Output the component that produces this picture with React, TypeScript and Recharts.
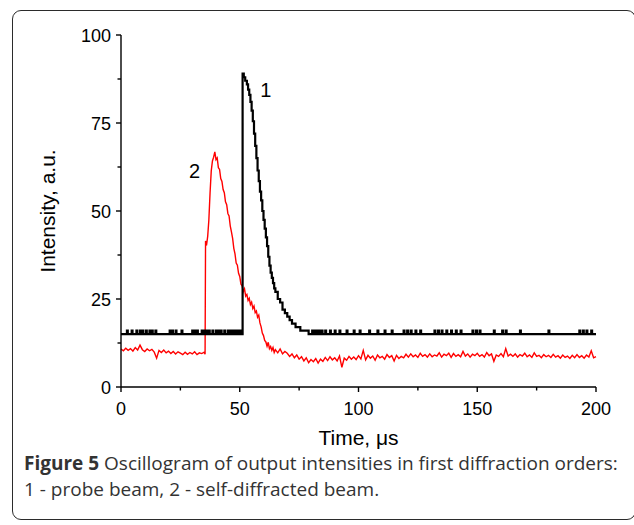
import React from "react";
import { LineChart, Line, XAxis, YAxis, ReferenceDot } from "recharts";

// time axis (µs) and intensity axis ticks, minor ones in between
const X_TICKS = [0, 25, 50, 75, 100, 125, 150, 175, 200];
const Y_TICKS = [0, 12.5, 25, 37.5, 50, 62.5, 75, 87.5, 100];

// curve 2 (self-diffracted beam), 1 µs samples before the pulse
const RED_PRE = [
  10.8, 10.3, 11.0, 10.4, 10.9, 10.2, 11.2, 10.5, 11.9, 10.6, 10.1, 10.8,
  10.3, 10.7, 9.9, 8.2, 10.4, 9.8, 10.5, 9.7, 10.2, 9.5, 10.1, 9.4, 10.0,
  9.6, 9.2, 9.9, 9.3, 9.8, 9.4, 10.0, 9.2, 9.7, 9.5,
];

// curve 2 during the pulse: [time, intensity]
const RED_PULSE: [number, number][] = [
  [35, 9.9], [35.4, 9.3], [35.6, 41.5], [36, 40.2], [36.5, 42.8], [37, 47.5],
  [37.5, 55.2], [38, 61.4], [38.5, 64.2], [39, 65.3], [39.5, 66.8], [40, 64.6],
  [40.5, 65.1], [41, 62.3], [41.5, 61.8], [42, 59.2], [42.5, 58.4], [43, 56.1],
  [43.5, 55.2], [44, 52.6], [44.5, 51.8], [45, 49.3], [45.5, 48.6], [46, 45.8],
  [46.5, 44.1], [47, 42.2], [47.5, 39.4], [48, 37.8], [48.5, 35.2], [49, 34.6],
  [49.5, 32.3], [50, 31.4], [50.5, 29.2], [51, 28.7], [51.5, 27.1], [52, 27.9],
  [52.5, 25.8], [53, 26.3], [53.5, 24.6], [54, 25.2], [54.5, 23.4], [55, 24.1],
  [55.5, 22.3], [56, 23.0], [56.5, 21.1], [57, 21.6], [57.5, 19.8], [58, 20.4],
  [58.5, 18.2], [59, 17.1], [59.5, 15.3], [60, 14.6], [60.5, 13.2], [61, 12.8],
  [61.5, 11.6], [62, 12.7], [62.5, 10.9], [63, 11.5], [63.5, 10.4], [64, 11.2],
  [64.5, 9.8], [65, 10.6], [66, 9.7], [67, 10.8], [68, 9.4], [69, 10.1],
];

// curve 2 after the pulse, 1 µs samples from 70 to 200 µs
const RED_POST = [
  9.6, 8.7, 9.4, 8.3, 9.1, 7.9, 8.6, 7.4, 8.3, 6.9, 7.8, 7.2, 8.1, 6.8, 7.9,
  7.3, 8.4, 7.5, 8.6, 7.7, 8.3, 7.4, 8.8, 5.6, 8.2, 7.6, 8.7, 7.9, 8.5, 7.8,
  8.9, 8.0, 10.4, 7.7, 9.0, 8.2, 8.8, 7.6, 9.1, 8.3, 8.7, 7.9, 9.2, 8.4, 8.9,
  7.4, 9.0, 8.1, 8.7, 8.3, 9.3, 8.5, 9.4, 8.6, 9.1, 8.4, 9.6, 8.7, 9.2, 8.5,
  9.4, 8.6, 9.1, 8.8, 9.7, 8.5, 9.3, 8.9, 9.6, 8.4, 9.5, 8.7, 9.2, 8.6, 10.1,
  8.8, 9.4, 8.5, 9.3, 8.9, 9.6, 8.7, 9.2, 8.5, 9.8, 8.9, 9.4, 7.3, 9.1, 8.7,
  9.5, 8.6, 10.9, 8.8, 9.3, 8.7, 9.4, 8.5, 9.2, 8.8, 9.6, 8.6, 9.1, 8.4, 9.7,
  8.7, 9.0, 8.3, 9.2, 8.6, 9.0, 8.4, 9.3, 8.5, 8.9, 8.2, 9.1, 8.4, 8.8, 8.1,
  9.0, 8.3, 9.2, 8.4, 8.9, 8.2, 9.1, 8.5, 10.3, 8.3, 8.6,
];

// curve 1 (probe beam): quantized baseline with short one-count blips
const BLACK_BASE = 15;
const BLACK_BLIP = 16;
const BLIPS_BEFORE = [
  2.5, 4.5, 6.5, 8, 9, 10.5, 12, 13, 14.5, 20.5, 21.5, 23, 25.5, 30, 31, 32,
  34, 35, 36, 37, 38.5, 40, 41, 42, 43.5, 45, 46, 47, 48, 49, 50,
];
const BLIPS_AFTER = [
  80.5, 81.5, 82.5, 83.5, 84.5, 86, 88, 90, 92, 95, 98, 100.5, 104.5, 108, 111,
  114, 119, 120.5, 122, 124, 126, 132, 133.5, 135, 137, 139, 141, 143, 148,
  149.5, 151, 157, 160.5, 162, 168, 180, 193, 194.5, 196, 198,
];
const BLACK_PULSE: [number, number][] = [
  [51.2, 89], [51.7, 88], [52.3, 87], [53, 86], [53.5, 84.5], [54, 83],
  [54.5, 81], [55, 78.5], [55.5, 75.5], [56, 72], [56.5, 68.5], [57, 65],
  [57.5, 61.5], [58, 58.5], [58.5, 55.5], [59, 53], [59.5, 50], [60, 47.5],
  [60.5, 45], [61, 42.5], [61.5, 40], [62, 37], [62.5, 34.5], [63, 32.5],
  [63.5, 31], [64, 29.5], [64.5, 28], [65, 27], [66, 25], [67, 24], [68, 22],
  [69, 21], [70, 20], [71, 19], [72, 18], [73.5, 17], [75.5, 16], [79, 15],
];

const redData = [
  ...RED_PRE.map((v, i) => ({ t: i, v })),
  ...RED_PULSE.map(([t, v]) => ({ t, v })),
  ...RED_POST.map((v, i) => ({ t: 70 + i, v })),
];

const blipPoints = (times: number[]) =>
  times.flatMap((t) => [
    { t, v: BLACK_BLIP },
    { t: t + 0.35, v: BLACK_BASE },
  ]);

const blackData = [
  { t: 0, v: BLACK_BASE },
  ...blipPoints(BLIPS_BEFORE),
  { t: 51, v: BLACK_BASE },
  ...BLACK_PULSE.map(([t, v]) => ({ t, v })),
  ...blipPoints(BLIPS_AFTER),
  { t: 200, v: BLACK_BASE },
];

const FONT = '"Liberation Sans", Arial, sans-serif';

const YTick = (props: any) => {
  const { x, y, payload } = props;
  const major = payload.value % 25 === 0;
  const len = major ? 5 : 3.5;
  return (
    <g>
      <line x1={x} x2={x - len} y1={y} y2={y} stroke="#000" strokeWidth={1.4} />
      {major && (
        <text x={x - 10} y={y + 6.5} textAnchor="end" fontSize={18} fontFamily={FONT} fill="#000">
          {payload.value}
        </text>
      )}
    </g>
  );
};

const XTick = (props: any) => {
  const { x, y, payload } = props;
  const major = payload.value % 50 === 0;
  const len = major ? 5 : 3.5;
  return (
    <g>
      <line x1={x} x2={x} y1={y} y2={y + len} stroke="#000" strokeWidth={1.4} />
      {major && (
        <text x={x} y={y + 28} textAnchor="middle" fontSize={18} fontFamily={FONT} fill="#000">
          {payload.value}
        </text>
      )}
    </g>
  );
};

const noShape = () => <g />;

export default function App() {
  return (
    <div style={{ position: "absolute", left: 0, top: 0, width: 634, height: 525, overflow: "hidden", background: "#fff" }}>
      <div
        style={{
          position: "absolute",
          left: 12,
          top: 10,
          width: 622,
          height: 508,
          border: "1.5px solid #2b2b2b",
          borderRadius: 9,
        }}
      />
      <div style={{ position: "absolute", left: 0, top: 0 }}>
        <LineChart width={634} height={460} margin={{ top: 35, right: 38, left: 41, bottom: 0 }}>
          <XAxis
            dataKey="t"
            type="number"
            domain={[0, 200]}
            ticks={X_TICKS}
            interval={0}
            height={73}
            tickSize={0}
            tickMargin={0}
            tick={<XTick />}
            tickLine={false}
            axisLine={{ stroke: "#000", strokeWidth: 1.4 }}
            allowDuplicatedCategory={false}
            label={{ value: "Time, μs", position: "insideBottom", offset: 15, fontSize: 21, fontFamily: FONT, fill: "#000" }}
          />
          <YAxis
            type="number"
            domain={[0, 100]}
            ticks={Y_TICKS}
            interval={0}
            width={80}
            tickSize={0}
            tickMargin={0}
            tick={<YTick />}
            tickLine={false}
            axisLine={{ stroke: "#000", strokeWidth: 1.4 }}
            label={{
              value: "Intensity, a.u.",
              angle: -90,
              position: "insideLeft",
              offset: 7,
              fontSize: 21,
              fontFamily: FONT,
              fill: "#000",
              style: { textAnchor: "middle" },
            }}
          />
          <Line
            data={redData}
            dataKey="v"
            type="linear"
            stroke="#ff0000"
            strokeWidth={1.4}
            dot={false}
            isAnimationActive={false}
          />
          <Line
            data={blackData}
            dataKey="v"
            type="stepAfter"
            stroke="#000"
            strokeWidth={2.2}
            dot={false}
            isAnimationActive={false}
          />
          <ReferenceDot
            x={61}
            y={84.5}
            r={0}
            shape={noShape}
            label={{ value: "1", position: "center", fontSize: 20, fontFamily: FONT, fill: "#000" }}
          />
          <ReferenceDot
            x={31}
            y={61.5}
            r={0}
            shape={noShape}
            label={{ value: "2", position: "center", fontSize: 20, fontFamily: FONT, fill: "#000" }}
          />
        </LineChart>
      </div>
      <div
        style={{
          position: "absolute",
          left: 24,
          top: 450,
          width: 610,
          fontFamily: '"Open Sans", sans-serif',
          fontSize: 19,
          lineHeight: "26px",
          color: "#333",
          whiteSpace: "nowrap",
        }}
      >
        <b>Figure 5</b> Oscillogram of output intensities in first diffraction orders:
        <br />1 - probe beam, 2 - self-diffracted beam.
      </div>
    </div>
  );
}
